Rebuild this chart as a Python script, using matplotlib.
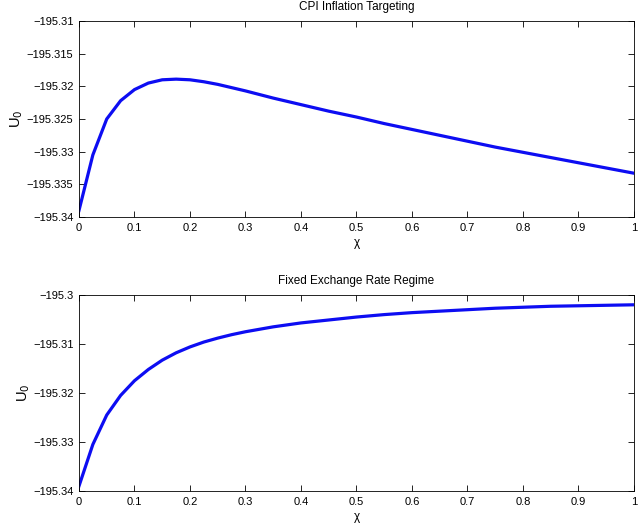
import matplotlib
matplotlib.use("Agg")
import matplotlib.pyplot as plt
import numpy as np

chi = [0.0, 0.025, 0.05, 0.075, 0.1, 0.125, 0.15, 0.175, 0.2, 0.225, 0.25, 0.275, 0.3,
       0.35, 0.4, 0.45, 0.5, 0.55, 0.6, 0.65, 0.7, 0.75, 0.8, 0.85, 0.9, 0.95, 1.0]

u_cpi = [-195.3390, -195.3305, -195.3250, -195.3222, -195.3205, -195.3195, -195.3190,
         -195.3189, -195.3190, -195.3193, -195.3197, -195.3202, -195.3207,
         -195.3218, -195.3228, -195.3238, -195.3247, -195.3257, -195.3266, -195.3275,
         -195.3284, -195.3293, -195.3301, -195.3309, -195.3317, -195.3325, -195.3333]

u_fix = [-195.3390, -195.3305, -195.3245, -195.3205, -195.3175, -195.3152, -195.3133,
         -195.3118, -195.3106, -195.3096, -195.3088, -195.3081, -195.3075,
         -195.3065, -195.3057, -195.3051, -195.3045, -195.3040, -195.3036, -195.3033,
         -195.3030, -195.3027, -195.3025, -195.3023, -195.3022, -195.3021, -195.3020]

titles = ["CPI Inflation Targeting", "Fixed Exchange Rate Regime"]
xticks = [0, 0.1, 0.2, 0.3, 0.4, 0.5, 0.6, 0.7, 0.8, 0.9, 1]
xticklabels = ["0", "0.1", "0.2", "0.3", "0.4", "0.5", "0.6", "0.7", "0.8", "0.9", "1"]
yticks_cpi = [-195.34, -195.335, -195.33, -195.325, -195.32, -195.315, -195.31]
yticklabels_cpi = ["\u2212195.34", "\u2212195.335", "\u2212195.33", "\u2212195.325",
                   "\u2212195.32", "\u2212195.315", "\u2212195.31"]
yticks_fix = [-195.34, -195.33, -195.32, -195.31, -195.3]
yticklabels_fix = ["\u2212195.34", "\u2212195.33", "\u2212195.32", "\u2212195.31", "\u2212195.3"]

plt.rcParams['font.family'] = ['Liberation Sans', 'DejaVu Sans']

fig = plt.figure(figsize=(6.39, 5.25), dpi=100)
ax1 = fig.add_axes([0.1236, 0.5867, 0.8685, 0.3733])
ax2 = fig.add_axes([0.1236, 0.0648, 0.8685, 0.3733])

for ax, y, title, yt, ytl, ylim in [
        (ax1, u_cpi, titles[0], yticks_cpi, yticklabels_cpi, (-195.34, -195.31)),
        (ax2, u_fix, titles[1], yticks_fix, yticklabels_fix, (-195.34, -195.3))]:
    ax.plot(chi, y, color=(0.05, 0.05, 0.95), linewidth=2.3)
    ax.set_xlim(0, 1)
    ax.set_ylim(*ylim)
    ax.set_xticks(xticks)
    ax.set_xticklabels(xticklabels)
    ax.set_yticks(yt)
    ax.set_yticklabels(ytl)
    ax.tick_params(direction='in', top=True, right=True, labelsize=8, length=4, width=0.6, pad=4)
    for s in ax.spines.values():
        s.set_linewidth(0.6)
    ax.set_title(title, fontsize=8.5, pad=8)
    ax.set_xlabel("\u03c7", fontsize=8.5, labelpad=3)
    ax.set_ylabel("U$_0$", fontsize=10.5, labelpad=1)

fig.savefig("out.png", dpi=100)
